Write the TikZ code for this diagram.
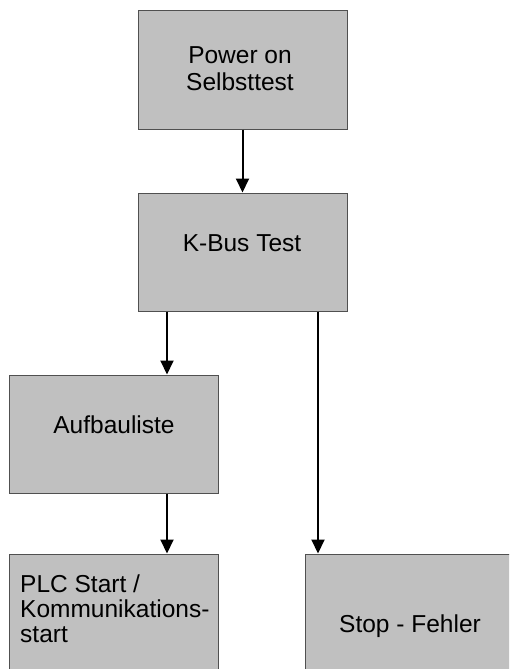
\documentclass[tikz,border=0pt]{standalone}
\usepackage{fontspec}
\setmainfont{Liberation Sans}
\usetikzlibrary{arrows.meta}
\definecolor{boxfill}{HTML}{C0C0C0}
\definecolor{boxline}{HTML}{505050}
\tikzset{
  flowbox/.style={draw=boxline, fill=boxfill, line width=1pt, minimum width=209pt, minimum height=118pt, inner sep=0pt},
  boxtext/.style={font=\fontsize{24.5}{27}\selectfont, inner sep=0pt, align=center},
  flowarrow/.style={line width=2pt, -{Triangle[width=13pt,length=14pt]}}
}
\begin{document}
\begin{tikzpicture}[x=1pt,y=-1pt]
\useasboundingbox (0,0) rectangle (509,669);
\clip (0,0) rectangle (509,669);
\node[flowbox] (power) at (242.5,70) {};
\node[boxtext] (powertext) at (240,68.5) {Power on\\Selbsttest};
\node[flowbox] (kbus) at (242.5,252) {};
\node[boxtext, anchor=base] (kbustext) at (242,251) {K-Bus Test};
\node[flowbox] (aufbau) at (113.5,434) {};
\node[boxtext, anchor=base] (aufbautext) at (114,433) {Aufbauliste};
\node[flowbox] (plc) at (113.5,613) {};
\node[boxtext, font=\fontsize{24.5}{25}\selectfont, align=left, anchor=north west] (plctext) at (20,574.5) {PLC Start /\\Kommunikations-\\start};
\node[flowbox, minimum width=240pt] (stop) at (425.5,613) {};
\node[boxtext, anchor=base] (stoptext) at (410,632) {Stop - Fehler};
\draw[flowarrow] (power.south) -- (kbus.north);
\draw[flowarrow] (kbus.south -| 167,0) -- (aufbau.north -| 167,0);
\draw[flowarrow] (aufbau.south -| 167,0) -- (plc.north -| 167,0);
\draw[flowarrow] (kbus.south -| 318,0) -- (stop.north -| 318,0);
\end{tikzpicture}
\end{document}
